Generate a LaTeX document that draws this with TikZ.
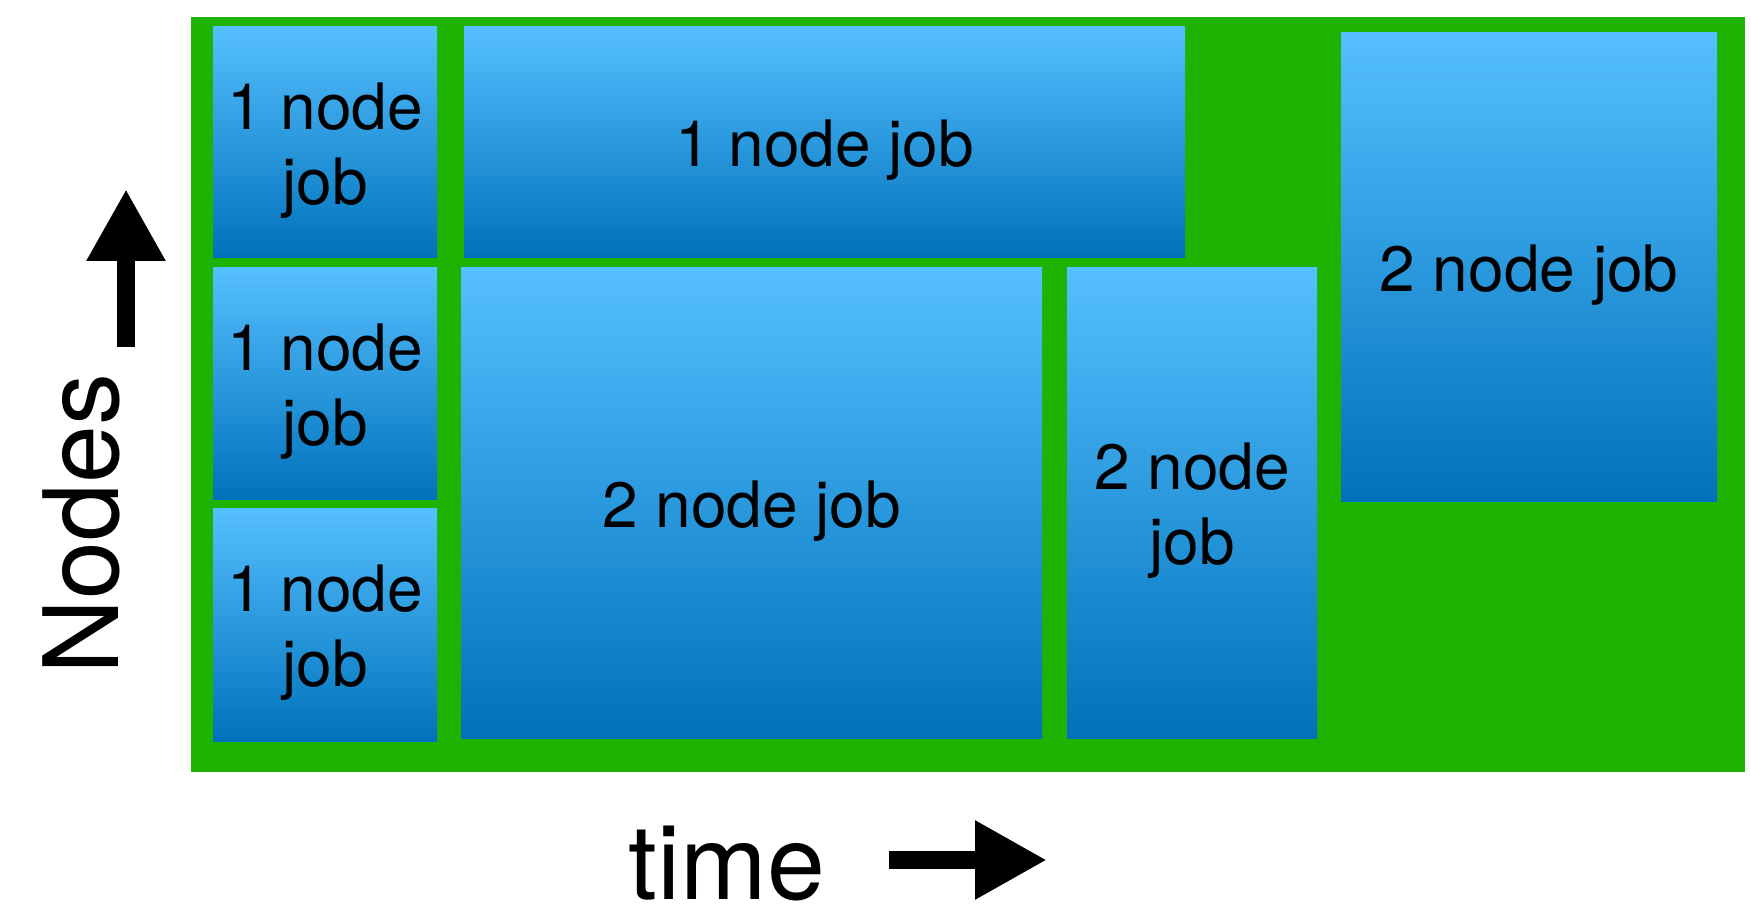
\documentclass[tikz,border=0pt]{standalone}
\usepackage{fontspec}
\setmainfont{TeX Gyre Heros}
\usetikzlibrary{arrows.meta}
\definecolor{gridgreen}{HTML}{1DB300}
\definecolor{jobtop}{HTML}{55BFFF}
\definecolor{jobbottom}{HTML}{0072BB}
\tikzset{
  jobbox/.style={inner sep=0pt, top color=jobtop, bottom color=jobbottom,
    draw=none, align=center, font=\fontsize{32}{37.5}\selectfont},
  jobsize/.style 2 args={minimum width=#1pt, minimum height=#2pt},
  jobtext/.style={inner sep=0pt, align=center, font=\fontsize{32}{37.5}\selectfont, yshift=-4pt},
  axislabel/.style={font=\fontsize{52}{60}\selectfont, inner sep=0pt},
  axisarrow/.style={line width=9.25pt, -{Triangle[length=36pt,width=37pt]}},
}
\begin{document}
\begin{tikzpicture}[x=0.5pt,y=-0.5pt]
\useasboundingbox (0,0) rectangle (1751,908);
% machine area
\fill[gridgreen] (191,17) rectangle (1745,772);
% jobs (sizes in pt, half of the picture units)
\node[jobbox, jobsize={112}{115.5}] (jobA) at (325,142.5) {};
\node[jobbox, jobsize={112}{116}]   (jobB) at (325,384)   {};
\node[jobbox, jobsize={112}{116}]   (jobC) at (325,625)   {};
\node[jobbox, jobsize={360.5}{115.5}] (jobD) at (824.5,142.5) {};
\node[jobbox, jobsize={290.5}{235}] (jobE) at (751.5,503) {};
\node[jobbox, jobsize={125}{235}]   (jobF) at (1192,503) {};
\node[jobbox, jobsize={188}{234.5}] (jobG) at (1529,267.5) {};
% job captions
\node[jobtext] (textA) at (jobA) {1 node\\job};
\node[jobtext] (textB) at (jobB) {1 node\\job};
\node[jobtext] (textC) at (jobC) {1 node\\job};
\node[jobtext] (textD) at (jobD) {1 node job};
\node[jobtext] (textE) at (jobE) {2 node job};
\node[jobtext] (textF) at (jobF) {2 node\\job};
\node[jobtext] (textG) at (jobG) {2 node job};
% axes
\node[axislabel, rotate=90, anchor=base] (nodeslabel) at (118,524) {Nodes};
\node[axislabel, anchor=base] (timelabel) at (727,899) {time};
\coordinate (upfrom) at (126,347);
\coordinate (upto) at (126,189);
\coordinate (rightfrom) at (889,860);
\coordinate (rightto) at (1047,860);
\draw[axisarrow] (upfrom) -- (upto);
\draw[axisarrow] (rightfrom) -- (rightto);
\end{tikzpicture}
\end{document}
